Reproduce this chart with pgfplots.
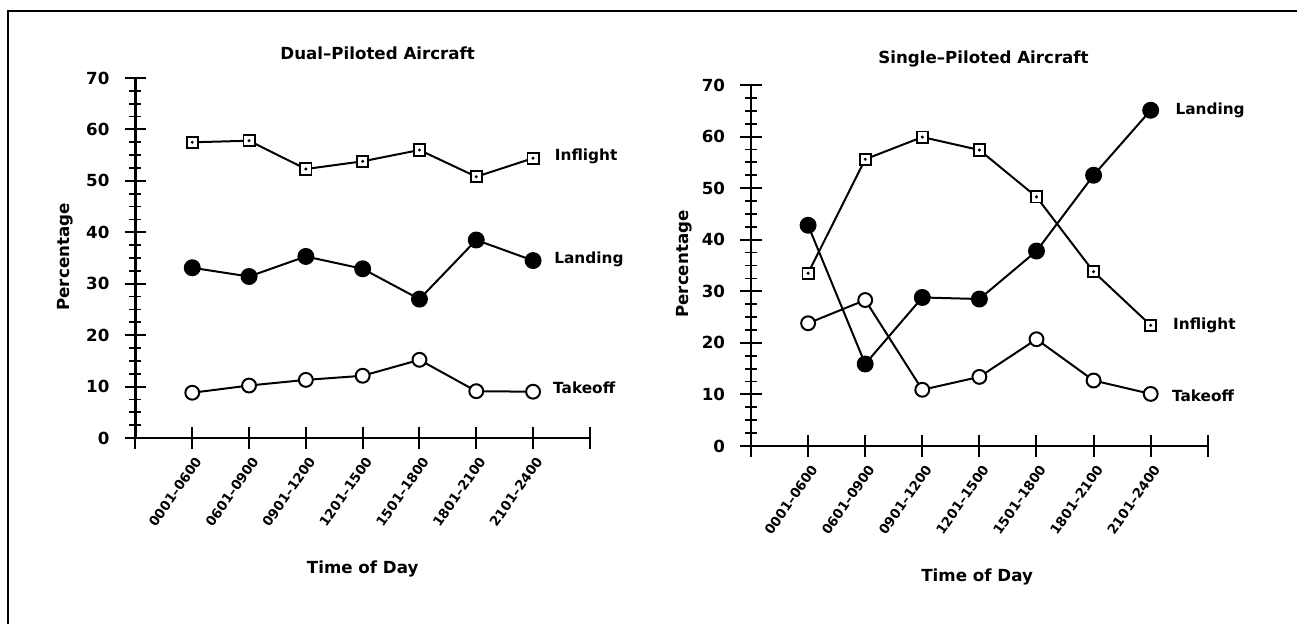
\documentclass[border=0pt]{standalone}
\usepackage{fontspec}
\setmainfont{DejaVu Sans}
\usepackage{pgfplots}
\pgfplotsset{compat=1.18}

\pgfdeclareplotmark{sqdot}{%
  \pgfpathrectangle{\pgfqpoint{-\pgfplotmarksize}{-\pgfplotmarksize}}{\pgfqpoint{2\pgfplotmarksize}{2\pgfplotmarksize}}%
  \pgfusepathqfillstroke
  \begin{pgfscope}%
  \pgfsetfillcolor{black}%
  \pgfpathcircle{\pgfpointorigin}{0.3\pgfplotmarksize}%
  \pgfusepathqfill
  \end{pgfscope}%
}

\tikzset{slabel/.style={anchor=west, inner sep=0pt, font=\bfseries\fontsize{11.5}{13}\selectfont}}

\pgfplotsset{
  panel/.style={
    scale only axis, xmin=0, xmax=8, ymin=0, ymax=70,
    axis x line=bottom, axis y line=left,
    axis line style={-, line width=1.6pt, black},
    xtick={0,...,8},
    xticklabels={,0001–0600,0601–0900,0901–1200,1201–1500,1501–1800,1801–2100,2101–2400,},
    ytick={0,10,...,70}, minor y tick num=3,
    tick align=center, major tick length=16pt, minor tick length=9pt,
    every tick/.style={black, line width=1.5pt},
    every minor tick/.style={black, line width=1.3pt},
    clip=false,
    /pgf/number format/assume math mode=true,
    yticklabel style={font=\bfseries\fontsize{12.5}{14}\selectfont, xshift=-8pt},
    xticklabel style={font=\bfseries\fontsize{10}{12}\selectfont, rotate=55, anchor=east, yshift=-8pt},
    title style={font=\bfseries\fontsize{12.5}{14}\selectfont, anchor=center},
    xlabel style={font=\bfseries\fontsize{12.5}{14}\selectfont, anchor=center},
    ylabel style={font=\bfseries\fontsize{12.5}{14}\selectfont, anchor=center, rotate=0},
    xlabel={Time of Day}, ylabel={Percentage},
  },
  infl/.style={black, line width=1.5pt, mark=sqdot, mark size=4.2pt, mark options={fill=white, line width=1.4pt}},
  land/.style={black, line width=1.5pt, mark=*, mark size=5.6pt, mark options={fill=black}},
  take/.style={black, line width=1.5pt, mark=*, mark size=5.2pt, mark options={fill=white, line width=1.5pt}},
}

\begin{document}
\begin{tikzpicture}
\path[use as bounding box] (0,0) rectangle (972.75pt,468pt);
\draw[line width=1.5pt] (6pt,0pt) -- (6pt,459.75pt) -- (972.75pt,459.75pt);

\begin{axis}[panel, at={(101.6pt,139.5pt)}, anchor=south west,
  width=340.8pt, height=270pt,
  title={Dual–Piloted Aircraft},
  title style={at={(axis description cs:0.533,1.047)}},
  ylabel style={at={(axis description cs:-0.155,0.503)}},
  xlabel style={at={(axis description cs:0.50,-0.364)}}]
\addplot[infl] coordinates {(1,57.5) (2,57.8) (3,52.3) (4,53.8) (5,56.0) (6,50.8) (7,54.4)};
\addplot[land] coordinates {(1,33.1) (2,31.4) (3,35.3) (4,32.9) (5,27.0) (6,38.5) (7,34.5)};
\addplot[take] coordinates {(1,8.8) (2,10.2) (3,11.3) (4,12.1) (5,15.2) (6,9.1) (7,9.0)};
\node[slabel] at (axis cs:7.38,54.7) {Inflight};
\node[slabel] at (axis cs:7.37,34.8) {Landing};
\node[slabel] at (axis cs:7.35,9.7) {Takeoff};
\end{axis}

\begin{axis}[panel, at={(563.25pt,133.5pt)}, anchor=south west,
  width=342.6pt, height=270.75pt,
  title={Single–Piloted Aircraft},
  title style={at={(axis description cs:0.509,1.050)}},
  ylabel style={at={(axis description cs:-0.147,0.504)}},
  xlabel style={at={(axis description cs:0.495,-0.363)}}]
\addplot[infl] coordinates {(1,33.5) (2,55.6) (3,59.9) (4,57.4) (5,48.3) (6,33.8) (7,23.4)};
\addplot[land] coordinates {(1,42.8) (2,15.9) (3,28.8) (4,28.5) (5,37.8) (6,52.5) (7,65.1)};
\addplot[take] coordinates {(1,23.8) (2,28.3) (3,10.9) (4,13.4) (5,20.7) (6,12.7) (7,10.1)};
\node[slabel] at (axis cs:7.43,65.1) {Landing};
\node[slabel] at (axis cs:7.39,23.4) {Inflight};
\node[slabel] at (axis cs:7.37,9.7) {Takeoff};
\end{axis}
\end{tikzpicture}
\end{document}
